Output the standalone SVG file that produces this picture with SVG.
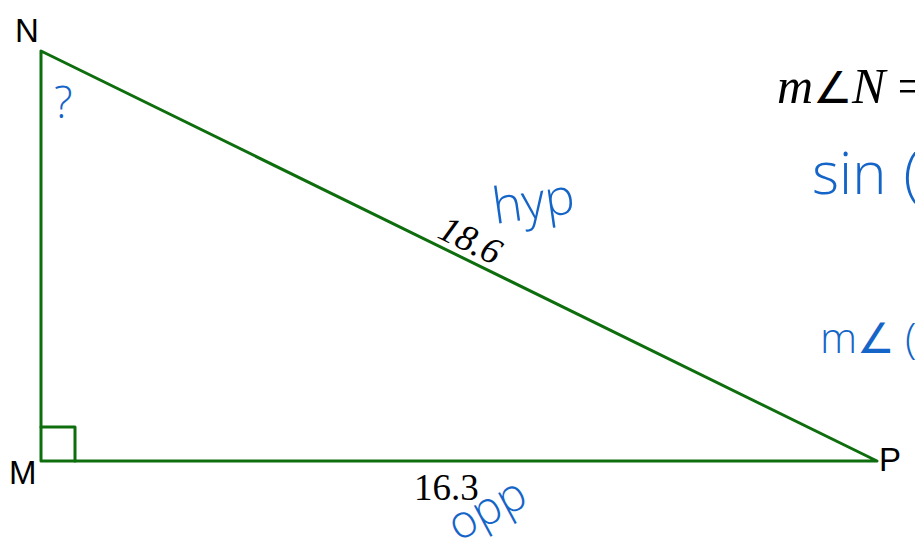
<svg xmlns="http://www.w3.org/2000/svg" width="915" height="552" viewBox="0 0 915 552">
<style>
.edge{stroke:#0e6e0e;stroke-width:3;fill:none;stroke-linecap:round;stroke-linejoin:round}
.lbl{font-family:"Liberation Sans",Arial,sans-serif;font-size:33px;fill:#000}
.num{font-family:"Liberation Serif","Times New Roman",serif;font-size:37px;fill:#000}
.hand{font-family:"Open Sans","Noto Sans",sans-serif;font-weight:300;fill:#1565c8}
</style>
<rect width="915" height="552" fill="#fff"/>
<g id="connectors">
<path class="edge" d="M41 51 L41 461 L877 461 Z"/>
<path class="edge" d="M41 427 L75 427 L75 461"/>
</g>
<g id="N"><text class="lbl" x="15" y="42">N</text></g>
<g id="M"><text class="lbl" x="9" y="484">M</text></g>
<g id="P"><text class="lbl" x="879" y="471">P</text></g>
<g id="labels">
<text class="num" font-style="italic" transform="translate(436,237) rotate(26)">18.6</text>
<text class="num" x="414" y="500">16.3</text>
<text class="num" style="font-size:50px;font-style:italic" x="777" y="103">m<tspan style="font-family:'DejaVu Sans',sans-serif;font-style:normal;font-weight:200;font-size:44px">∠</tspan>N<tspan dx="12" style="font-style:normal">=</tspan></text>
</g>
<g id="handwriting">
<text class="hand" font-size="44" x="54" y="118">?</text>
<text class="hand" font-size="50" transform="translate(495,224) rotate(-8)">hyp</text>
<text class="hand" font-size="46" transform="translate(458,542) rotate(-28)">opp</text>
<text class="hand" font-size="58" x="812" y="194">sin<tspan dx="17">(</tspan></text>
<text class="hand" font-size="42" x="820" y="353">m∠<tspan dx="10">(</tspan></text>
</g>
</svg>
